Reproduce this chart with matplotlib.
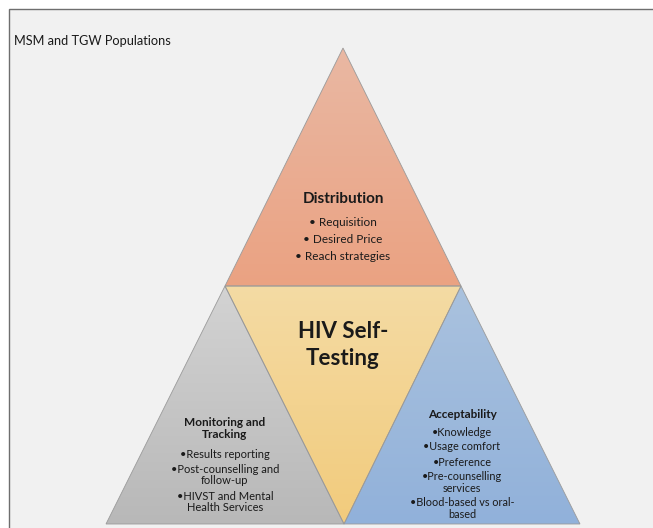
import numpy as np
import matplotlib
matplotlib.use("Agg")
import matplotlib.pyplot as plt
from matplotlib.patches import Polygon, Rectangle
from matplotlib.colors import LinearSegmentedColormap

plt.rcParams['font.family'] = ['Lato', 'DejaVu Sans']

title = "MSM and TGW Populations"
center_label = "HIV Self-\nTesting"
dist_title = "Distribution"
dist_items = ["• Requisition", "• Desired Price", "• Reach strategies"]
mon_title = "Monitoring and\nTracking"
mon_items = ["•Results reporting", "•Post-counselling and\nfollow-up", "•HIVST and Mental\nHealth Services"]
acc_title = "Acceptability"
acc_items = ["•Knowledge", "•Usage comfort", "•Preference", "•Pre-counselling\nservices", "•Blood-based vs oral-\nbased"]

W, H = 653, 528
fig = plt.figure(figsize=(W / 100, H / 100), dpi=100)
ax = fig.add_axes([0, 0, 1, 1])
ax.set_xlim(0, W)
ax.set_ylim(H, 0)
ax.axis('off')
fig.patch.set_facecolor('white')

# frame
ax.add_patch(Rectangle((9, 9), 660, 530, facecolor='#f1f1f1', edgecolor='#6e6e6e', lw=1.0, zorder=0))

def grad_tri(pts, c_top, c_bot, z=1):
    pts = np.array(pts, float)
    ymin, ymax = pts[:, 1].min(), pts[:, 1].max()
    xmin, xmax = pts[:, 0].min(), pts[:, 0].max()
    cmap = LinearSegmentedColormap.from_list('g', [c_top, c_bot])
    grad = np.linspace(0, 1, 256).reshape(-1, 1)
    im = ax.imshow(grad, cmap=cmap, aspect='auto', extent=(xmin, xmax, ymax, ymin),
                   origin='upper', zorder=z, interpolation='bilinear')
    poly = Polygon(pts, closed=True, facecolor='none', edgecolor='#9a9a9a', lw=0.6, zorder=z + 0.5)
    ax.add_patch(poly)
    im.set_clip_path(poly)

top_y, mid_y, bot_y = 48, 286, 524
grad_tri([(343, top_y), (225, mid_y), (461, mid_y)], '#e9b8a3', '#eba282')
grad_tri([(225, mid_y), (106, bot_y), (344, bot_y)], '#d3d3d3', '#b8b8b8')
grad_tri([(461, mid_y), (344, bot_y), (580, bot_y)], '#aac2de', '#91b1da')
grad_tri([(225, mid_y), (461, mid_y), (344, bot_y)], '#f4dba4', '#f2cb7c')

tc = '#1a1a1a'
ax.text(14, 45, title, fontsize=9.2, color=tc, ha='left', va='baseline', zorder=5)
ax.text(343, 338, "HIV Self-", fontsize=16, fontweight='bold', color=tc,
        ha='center', va='baseline', zorder=5)
ax.text(343, 365, "Testing", fontsize=16, fontweight='bold', color=tc,
        ha='center', va='baseline', zorder=5)

ax.text(343, 199, dist_title, fontsize=11, fontweight='bold', color=tc, ha='center', va='center', zorder=5)
for i, s in enumerate(dist_items):
    ax.text(343, 223 + i * 16.5, s, fontsize=8.5, color=tc, ha='center', va='center', zorder=5)

ax.text(225, 428.5, mon_title, fontsize=8.5, fontweight='bold', color=tc, ha='center', va='center',
        linespacing=1.2, zorder=5)
mon_y = [454, 475, 502]
for y, s in zip(mon_y, mon_items):
    ax.text(225, y, s, fontsize=8, color=tc, ha='center', va='center', linespacing=1.0, zorder=5)

ax.text(462, 415, acc_title, fontsize=8.5, fontweight='bold', color=tc, ha='center', va='center', zorder=5)
acc_y = [433, 447, 462, 482.5, 508.5]
for y, s in zip(acc_y, acc_items):
    ax.text(462, y, s, fontsize=7.8, color=tc, ha='center', va='center', linespacing=1.0, zorder=5)

fig.savefig('out.png', dpi=100, facecolor='white')
